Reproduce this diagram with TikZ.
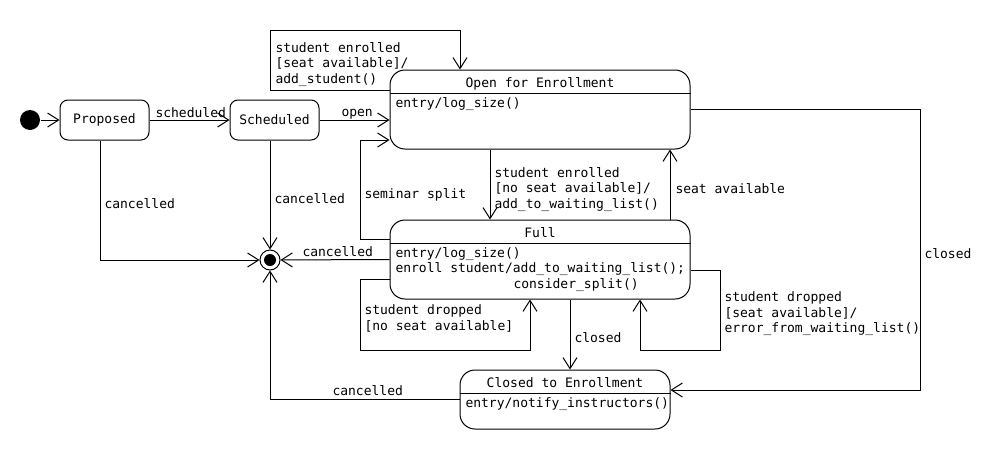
\documentclass[tikz,border=0pt]{standalone}
\usepackage{fontspec}
\setmainfont{DejaVu Sans Mono}
\usetikzlibrary{arrows.meta}
\begin{document}
\begin{tikzpicture}[x=1pt,y=-1pt,line width=1pt,
    every node/.style={font=\fontsize{13}{15.5}\selectfont},
    >={Straight Barb[length=11pt,width=14pt]},
    state/.style={draw,rounded corners=8pt,minimum width=89pt,minimum height=40pt,inner sep=0pt},
    compound/.style={draw,rounded corners=15pt,inner sep=0pt},
    txt/.style={inner sep=0pt,anchor=base west,align=left}]
      \useasboundingbox (0,0) rectangle (1000,450);
      \node[fill,circle,inner sep=0pt,minimum size=20pt] (init) at (30,120) {};
      \node[state] (proposed) at (104.5,120) {Proposed};
      \node[state] (scheduled) at (274.5,120) {Scheduled};
      \node[compound,minimum width=300pt,minimum height=79pt] (open) at (540,109.5) {};
      \node[compound,minimum width=300pt,minimum height=79pt] (full) at (540,259.5) {};
      \node[compound,minimum width=210pt,minimum height=59pt] (closed) at (565,399.5) {};
      \node[draw,circle,fill=white,inner sep=0pt,minimum size=20pt] (final) at (270,260) {};
      \fill (final.center) circle (6pt);
      \node[inner sep=0pt,anchor=base] (opentitle) at (540,87) {Open for Enrollment};
      \node[inner sep=0pt,anchor=base] (fulltitle) at (540,237) {Full};
      \node[inner sep=0pt,anchor=base] (closedtitle) at (565,387) {Closed to Enrollment};
      \draw (open.west |- 0,93) -- (open.east |- 0,93);
      \draw (full.west |- 0,243) -- (full.east |- 0,243);
      \draw (closed.west |- 0,393) -- (closed.east |- 0,393);
      \node[txt] (openentry) at (395,107) {entry/log\_size()};
      \node[txt] (fullentry) at (395,272.5) {entry/log\_size()\\enroll student/add\_to\_waiting\_list();};
      \node[txt] (fullsplit) at (513,288) {consider\_split()};
      \node[txt] (closedentry) at (465,407) {entry/notify\_instructors()};
      \coordinate (looptop) at (270,30);
      \coordinate (splitbend) at (360,140);
      \coordinate (closedbend) at (920,110);
      \coordinate (dropL) at (360,350);
      \coordinate (dropR) at (720,350);
      \begin{scope}[->]
        \draw (init) -- (proposed);
        \draw (proposed) -- (scheduled);
        \draw (scheduled) -- (scheduled -| open.west);
        \draw ([xshift=-4pt]proposed.south) |- (final);
        \draw (scheduled.south -| final) -- (final);
        \draw (full.west) -- (final);
        \draw ([yshift=20pt]full.west) -| (splitbend) -- (splitbend -| open.west);
        \draw ([yshift=19.5pt]open.west) -| (looptop) -| ([xshift=-80pt]open.north);
        \draw ([xshift=-50pt]open.south) -- ([xshift=-50pt]full.north);
        \draw ([xshift=130pt]full.north) -- ([xshift=130pt]open.south);
        \draw (open.east) -- (open.east -| closedbend) |- ([yshift=9.5pt]closed.east);
        \draw ([yshift=-20pt]full.west) -| (dropL) -| ([xshift=-10pt]full.south);
        \draw ([yshift=-10.5pt]full.east) -| (dropR) -| ([xshift=100pt]full.south);
        \draw ([xshift=30pt]full.south) -- ([xshift=5pt]closed.north);
        \draw (closed.west) -| (final);
      \end{scope}
      \node[txt] (lscheduled) at (155,117) {scheduled};
      \node[txt] (lopen) at (341,116) {open};
      \node[txt] (lcancelP) at (104,208) {cancelled};
      \node[txt] (lcancelS) at (274,203) {cancelled};
      \node[txt] (lcancelF) at (302,256) {cancelled};
      \node[txt] (lsplit) at (364,198) {seminar split};
      \node[txt] (lenrolled) at (275,83) {student enrolled\\{}[seat available]/\\add\_student()};
      \node[txt] (lwaiting) at (494,208) {student enrolled\\{}[no seat available]/\\add\_to\_waiting\_list()};
      \node[txt] (lseat) at (675,193) {seat available};
      \node[txt] (lclosedO) at (924,258) {closed};
      \node[txt] (ldropL) at (364,330) {student dropped\\{}[no seat available]};
      \node[txt] (ldropR) at (724,332.5) {student dropped\\{}[seat available]/\\error\_from\_waiting\_list()};
      \node[txt] (lclosedF) at (574,342) {closed};
      \node[txt] (lcancelC) at (332,395) {cancelled};
    \end{tikzpicture}
\end{document}
